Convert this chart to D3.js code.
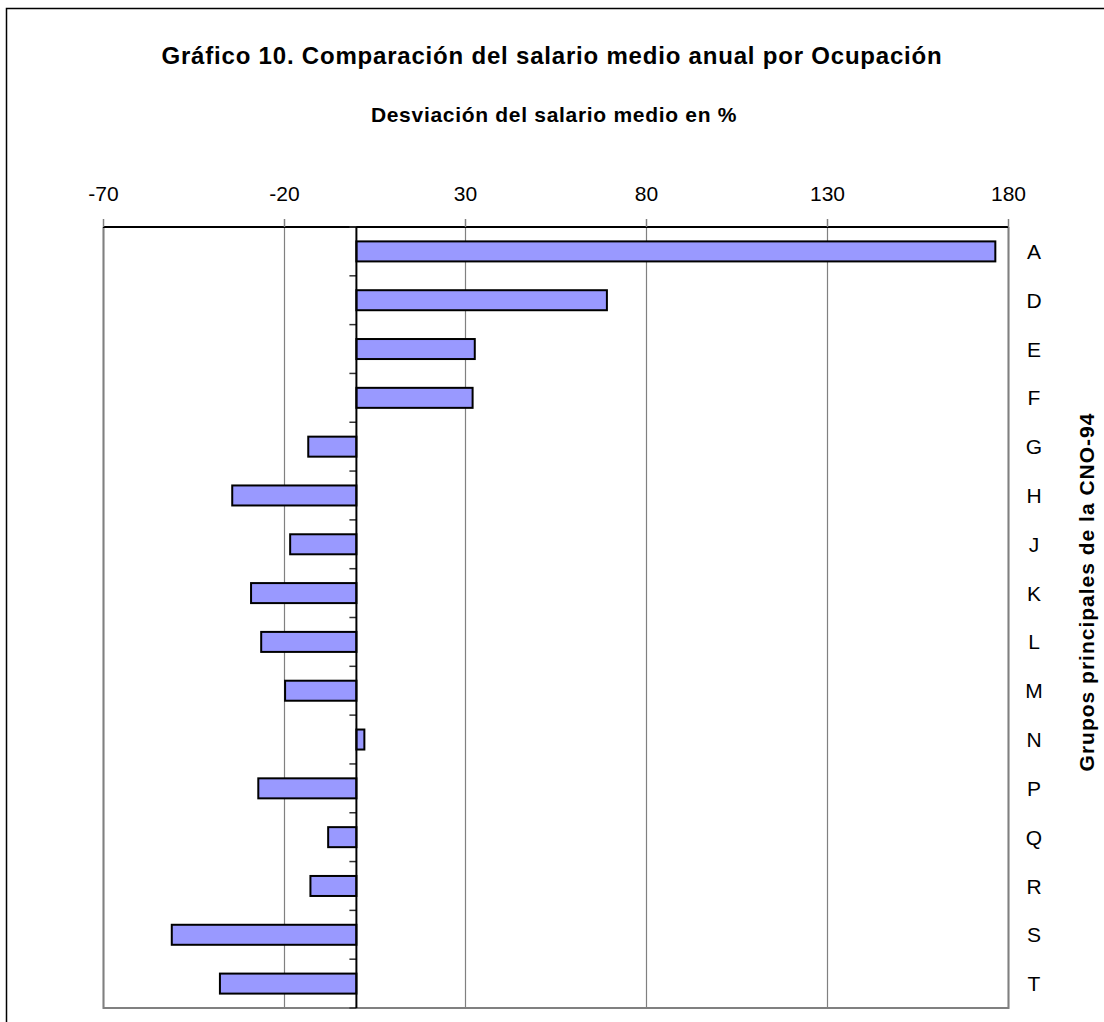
<!DOCTYPE html>
<html>
<head>
<meta charset="utf-8">
<script src="https://cdn.jsdelivr.net/npm/d3@7"></script>
<style>
  body { margin: 0; background: #fff; }
  text { font-family: "Liberation Sans", Arial, sans-serif; fill: #000; }
</style>
</head>
<body>
<div id="chart"></div>
<script>
// data
var categories = ["A", "D", "E", "F", "G", "H", "J", "K", "L", "M", "N", "P", "Q", "R", "S", "T"];
var deviations = [176.5, 69.2, 32.7, 32.1, -13.3, -34.3, -18.3, -29.1, -26.3, -19.7, 2.2, -27.1, -7.8, -12.7, -51, -37.7];
var xTicks = [-70, -20, 30, 80, 130, 180];

var svgWidth = 1104;
var svgHeight = 1022;

var plot = { left: 103, right: 1008, top: 227, bottom: 1008 };

var svg = d3.select("#chart")
  .append("svg")
  .attr("width", svgWidth)
  .attr("height", svgHeight);

// outer frame (cut off at right and bottom like the source)
svg.append("path")
  .attr("d", `M6.5,${svgHeight + 2} L6.5,8.5 L${svgWidth + 2},8.5`)
  .attr("fill", "none")
  .attr("stroke", "#000")
  .attr("stroke-width", 1.5);

var data = categories.map((c, i) => ({ cat: c, value: deviations[i] }));

// scales
var xScale = d3.scaleLinear()
  .domain([-70, 180])
  .range([plot.left, plot.right]);

var yScale = d3.scaleBand()
  .domain(categories)
  .range([plot.top, plot.bottom])
  .paddingInner(0.59)
  .paddingOuter(0.295);

// gridlines
svg.append("g")
  .selectAll("line")
  .data(xTicks)
  .enter()
  .append("line")
  .attr("x1", d => xScale(d) + 0.5)
  .attr("x2", d => xScale(d) + 0.5)
  .attr("y1", plot.top)
  .attr("y2", plot.bottom)
  .attr("stroke", "#808080")
  .attr("stroke-width", 1.2);

// plot border (left, right, bottom gray)
svg.append("path")
  .attr("d", `M${plot.left + 0.5},${plot.top} L${plot.left + 0.5},${plot.bottom} L${plot.right + 0.5},${plot.bottom} L${plot.right + 0.5},${plot.top}`)
  .attr("fill", "none")
  .attr("stroke", "#808080")
  .attr("stroke-width", 2);

// bars
svg.append("g")
  .selectAll("rect")
  .data(data)
  .enter()
  .append("rect")
  .attr("x", d => xScale(Math.min(0, d.value)))
  .attr("y", d => yScale(d.cat))
  .attr("width", d => Math.abs(xScale(d.value) - xScale(0)))
  .attr("height", yScale.bandwidth())
  .attr("fill", "#9999ff")
  .attr("stroke", "#000")
  .attr("stroke-width", 2);

// top value axis
var xAxis = d3.axisTop(xScale)
  .tickValues(xTicks)
  .tickSize(8)
  .tickPadding(18)
  .tickFormat(d => String(d));

var xAxisG = svg.append("g")
  .attr("transform", `translate(0, ${plot.top})`)
  .call(xAxis);
xAxisG.select(".domain").attr("stroke", "#000").attr("stroke-width", 2)
  .attr("d", `M${plot.left},0H${plot.right}`);
xAxisG.selectAll(".tick line").attr("stroke", "#808080").attr("stroke-width", 1.5);
xAxisG.selectAll(".tick text")
  .attr("font-size", "21px")
  .style("font-family", "Liberation Sans, Arial, sans-serif");

// category axis at zero (ticks at band boundaries)
var step = yScale.step();
var boundaries = d3.range(categories.length + 1).map(i => plot.top + i * step);

svg.append("g")
  .selectAll("line")
  .data(boundaries)
  .enter()
  .append("line")
  .attr("x1", xScale(0) - 7)
  .attr("x2", xScale(0))
  .attr("y1", d => d)
  .attr("y2", d => d)
  .attr("stroke", "#333")
  .attr("stroke-width", 1.5);

svg.append("line")
  .attr("x1", xScale(0))
  .attr("x2", xScale(0))
  .attr("y1", plot.top)
  .attr("y2", plot.bottom)
  .attr("stroke", "#000")
  .attr("stroke-width", 2);

// category labels on the right
svg.append("g")
  .selectAll("text")
  .data(categories)
  .enter()
  .append("text")
  .attr("x", 1034)
  .attr("y", d => yScale(d) + yScale.bandwidth() / 2)
  .attr("dy", "0.36em")
  .attr("text-anchor", "middle")
  .attr("font-size", "21px")
  .text(d => d);

// titles
svg.append("text")
  .attr("x", 552)
  .attr("y", 64)
  .attr("text-anchor", "middle")
  .attr("font-size", "24px")
  .style("letter-spacing", "0.8px")
  .style("font-weight", "bold")
  .text("Gráfico 10. Comparación del salario medio anual por Ocupación");

svg.append("text")
  .attr("x", 554)
  .attr("y", 122)
  .attr("text-anchor", "middle")
  .attr("font-size", "21px")
  .style("letter-spacing", "0.7px")
  .style("font-weight", "bold")
  .text("Desviación del salario medio en %");

svg.append("text")
  .attr("transform", "translate(1094, 592) rotate(-90)")
  .attr("text-anchor", "middle")
  .attr("font-size", "21px")
  .style("letter-spacing", "1px")
  .style("font-weight", "bold")
  .text("Grupos principales de la CNO-94");
</script>
</body>
</html>
